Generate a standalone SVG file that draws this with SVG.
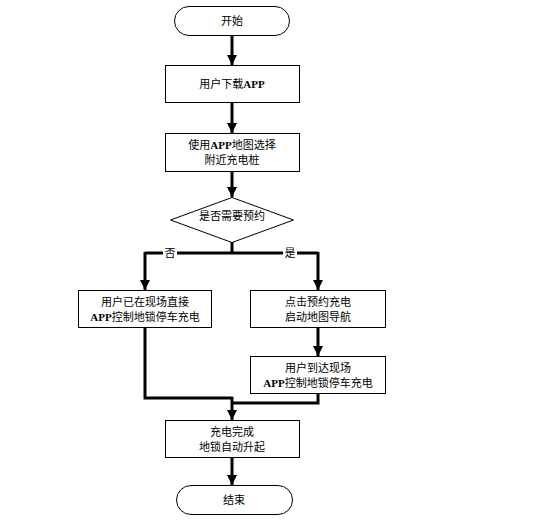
<svg xmlns="http://www.w3.org/2000/svg" width="546" height="520" viewBox="0 0 546 520">
<style>
.n{fill:#fff;stroke:#000;stroke-width:1}
.t{font-family:"Liberation Serif","Noto Sans CJK SC",serif;font-size:11px;fill:#000;text-anchor:middle;dominant-baseline:central}
.c{fill:none;stroke:#000;stroke-width:3}
.b{font-weight:bold}
</style>
<defs>
<marker id="ah" markerWidth="10" markerHeight="10" refX="10" refY="5" orient="auto" markerUnits="userSpaceOnUse" viewBox="0 0 10 10">
<path d="M0,0 L10,5 L0,10 z" fill="#000"/>
</marker>
</defs>
<rect width="546" height="520" fill="#fff"/>
<g id="connectors">
<path class="c" d="M232,36 V65" marker-end="url(#ah)"/>
<path class="c" d="M232,102 V133" marker-end="url(#ah)"/>
<path class="c" d="M232,172 V197" marker-end="url(#ah)"/>
<path class="c" d="M232,242 V253"/>
<path class="c" d="M145,253 H318"/>
<path class="c" d="M145,252 V290" marker-end="url(#ah)"/>
<path class="c" d="M318,252 V290" marker-end="url(#ah)"/>
<path class="c" d="M318,328 V356" marker-end="url(#ah)"/>
<path class="c" d="M145,328 V398 H233"/>
<path class="c" d="M318,394 V403 H232"/>
<path class="c" d="M232,397 V420" marker-end="url(#ah)"/>
<path class="c" d="M232,458 V485" marker-end="url(#ah)"/>
<rect x="163" y="247" width="14" height="12" fill="#fff"/>
<text class="t" x="170" y="253">否</text>
<rect x="283" y="247" width="14" height="12" fill="#fff"/>
<text class="t" x="290" y="253">是</text>
</g>
<g id="start">
<rect class="n" x="174.5" y="6.5" width="115" height="29" rx="14.5"/>
<text class="t" x="232" y="21">开始</text>
</g>
<g id="download">
<rect class="n" x="165.5" y="65.5" width="134" height="37"/>
<text class="t" x="232" y="84">用户下载<tspan class="b">APP</tspan></text>
</g>
<g id="select">
<rect class="n" x="165.5" y="133.5" width="134" height="38"/>
<text class="t" x="232" y="145">使用<tspan class="b">APP</tspan>地图选择</text>
<text class="t" x="232" y="160">附近充电桩</text>
</g>
<g id="decision">
<polygon class="n" points="232,197.5 293.5,220 232,242.5 170.5,220"/>
<text class="t" x="232" y="216">是否需要预约</text>
</g>
<g id="onsite">
<rect class="n" x="78.5" y="290.5" width="133" height="37"/>
<text class="t" x="145" y="302">用户已在现场直接</text>
<text class="t" x="145" y="317"><tspan class="b">APP</tspan>控制地锁停车充电</text>
</g>
<g id="reserve">
<rect class="n" x="250.5" y="290.5" width="135" height="37"/>
<text class="t" x="318" y="302">点击预约充电</text>
<text class="t" x="318" y="317">启动地图导航</text>
</g>
<g id="arrive">
<rect class="n" x="250.5" y="356.5" width="135" height="37"/>
<text class="t" x="318" y="368">用户到达现场</text>
<text class="t" x="318" y="383"><tspan class="b">APP</tspan>控制地锁停车充电</text>
</g>
<g id="done">
<rect class="n" x="165.5" y="420.5" width="134" height="37"/>
<text class="t" x="232" y="432">充电完成</text>
<text class="t" x="232" y="447">地锁自动升起</text>
</g>
<g id="end">
<rect class="n" x="176.5" y="485.5" width="116" height="29" rx="14.5"/>
<text class="t" x="234" y="500">结束</text>
</g>
</svg>
